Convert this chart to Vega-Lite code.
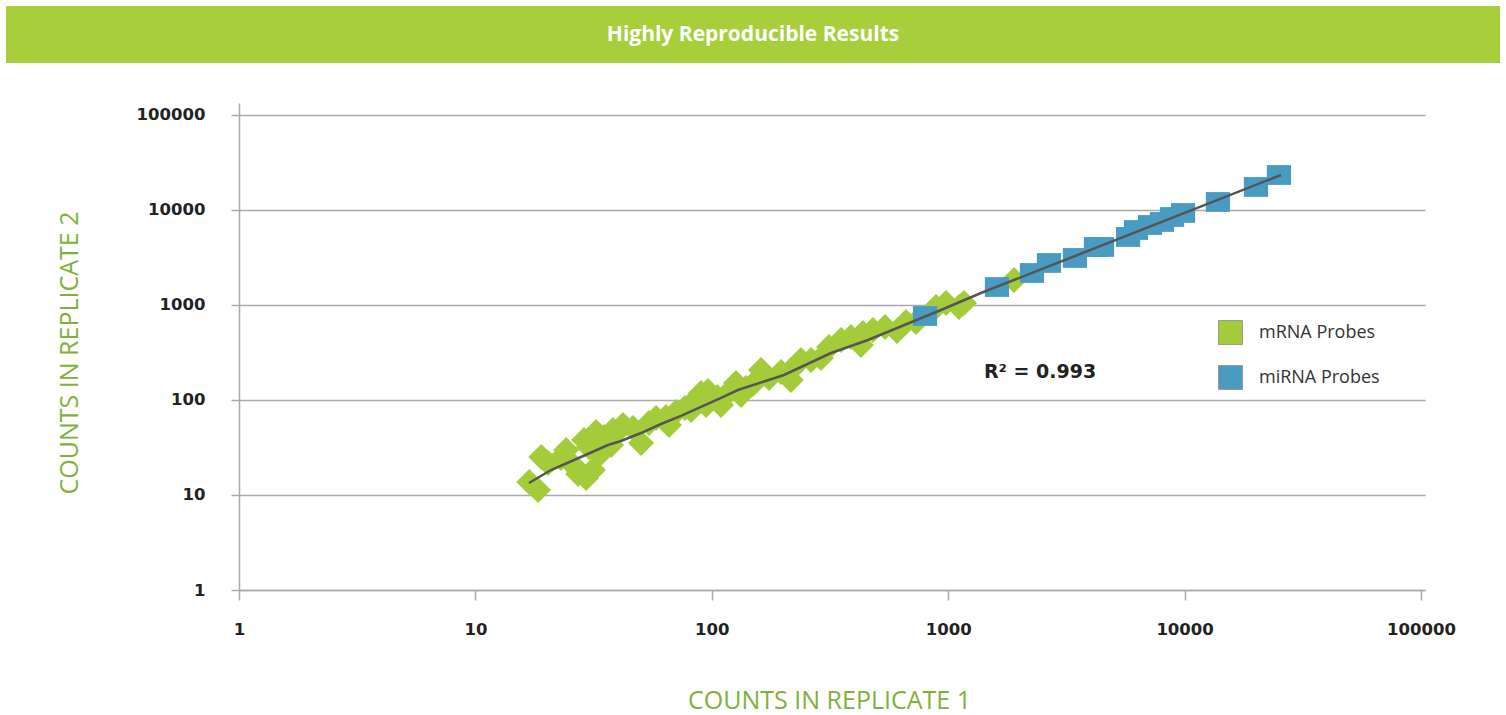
{
  "$schema": "https://vega.github.io/schema/vega-lite/v6.json",
  "padding": {"left": 6, "right": 6, "top": 6, "bottom": 2},
  "background": "white",
  "spacing": 40,
  "config": {"view": {"stroke": null}, "font": "Open Sans"},
  "datasets": {
    "mrna": [
      {"rep1": 16.9, "rep2": 13.7, "probe": "mRNA Probes"},
      {"rep1": 18.4, "rep2": 11.3, "probe": "mRNA Probes"},
      {"rep1": 19.0, "rep2": 25.1, "probe": "mRNA Probes"},
      {"rep1": 20.3, "rep2": 21.7, "probe": "mRNA Probes"},
      {"rep1": 23.0, "rep2": 24.5, "probe": "mRNA Probes"},
      {"rep1": 24.2, "rep2": 29.8, "probe": "mRNA Probes"},
      {"rep1": 25.9, "rep2": 20.7, "probe": "mRNA Probes"},
      {"rep1": 27.2, "rep2": 16.6, "probe": "mRNA Probes"},
      {"rep1": 28.8, "rep2": 37.9, "probe": "mRNA Probes"},
      {"rep1": 29.4, "rep2": 15.1, "probe": "mRNA Probes"},
      {"rep1": 30.2, "rep2": 32.0, "probe": "mRNA Probes"},
      {"rep1": 31.4, "rep2": 18.3, "probe": "mRNA Probes"},
      {"rep1": 33.3, "rep2": 26.4, "probe": "mRNA Probes"},
      {"rep1": 35.0, "rep2": 40.8, "probe": "mRNA Probes"},
      {"rep1": 32.4, "rep2": 46.0, "probe": "mRNA Probes"},
      {"rep1": 37.5, "rep2": 33.6, "probe": "mRNA Probes"},
      {"rep1": 38.2, "rep2": 48.3, "probe": "mRNA Probes"},
      {"rep1": 39.7, "rep2": 46.0, "probe": "mRNA Probes"},
      {"rep1": 42.1, "rep2": 54.6, "probe": "mRNA Probes"},
      {"rep1": 46.4, "rep2": 50.7, "probe": "mRNA Probes"},
      {"rep1": 50.2, "rep2": 35.3, "probe": "mRNA Probes"},
      {"rep1": 54.2, "rep2": 57.3, "probe": "mRNA Probes"},
      {"rep1": 58.1, "rep2": 64.7, "probe": "mRNA Probes"},
      {"rep1": 64.0, "rep2": 66.2, "probe": "mRNA Probes"},
      {"rep1": 65.9, "rep2": 54.6, "probe": "mRNA Probes"},
      {"rep1": 70.6, "rep2": 74.8, "probe": "mRNA Probes"},
      {"rep1": 77.0, "rep2": 82.4, "probe": "mRNA Probes"},
      {"rep1": 81.7, "rep2": 78.5, "probe": "mRNA Probes"},
      {"rep1": 84.1, "rep2": 97.6, "probe": "mRNA Probes"},
      {"rep1": 90.0, "rep2": 118.5, "probe": "mRNA Probes"},
      {"rep1": 94.5, "rep2": 88.6, "probe": "mRNA Probes"},
      {"rep1": 96.3, "rep2": 124.4, "probe": "mRNA Probes"},
      {"rep1": 105.2, "rep2": 107.5, "probe": "mRNA Probes"},
      {"rep1": 109.4, "rep2": 88.6, "probe": "mRNA Probes"},
      {"rep1": 117.1, "rep2": 118.5, "probe": "mRNA Probes"},
      {"rep1": 126.6, "rep2": 151.0, "probe": "mRNA Probes"},
      {"rep1": 132.9, "rep2": 112.9, "probe": "mRNA Probes"},
      {"rep1": 139.5, "rep2": 133.8, "probe": "mRNA Probes"},
      {"rep1": 149.4, "rep2": 147.3, "probe": "mRNA Probes"},
      {"rep1": 161.5, "rep2": 206.9, "probe": "mRNA Probes"},
      {"rep1": 174.6, "rep2": 170.4, "probe": "mRNA Probes"},
      {"rep1": 196.2, "rep2": 197.1, "probe": "mRNA Probes"},
      {"rep1": 216.3, "rep2": 206.9, "probe": "mRNA Probes"},
      {"rep1": 216.0, "rep2": 162.4, "probe": "mRNA Probes"},
      {"rep1": 238.4, "rep2": 263.7, "probe": "mRNA Probes"},
      {"rep1": 262.8, "rep2": 263.7, "probe": "mRNA Probes"},
      {"rep1": 289.6, "rep2": 276.8, "probe": "mRNA Probes"},
      {"rep1": 313.2, "rep2": 361.4, "probe": "mRNA Probes"},
      {"rep1": 352.0, "rep2": 428.1, "probe": "mRNA Probes"},
      {"rep1": 387.9, "rep2": 460.5, "probe": "mRNA Probes"},
      {"rep1": 427.6, "rep2": 379.0, "probe": "mRNA Probes"},
      {"rep1": 436.0, "rep2": 507.5, "probe": "mRNA Probes"},
      {"rep1": 480.7, "rep2": 545.6, "probe": "mRNA Probes"},
      {"rep1": 540.3, "rep2": 586.6, "probe": "mRNA Probes"},
      {"rep1": 607.4, "rep2": 532.5, "probe": "mRNA Probes"},
      {"rep1": 662.9, "rep2": 662.3, "probe": "mRNA Probes"},
      {"rep1": 730.8, "rep2": 662.3, "probe": "mRNA Probes"},
      {"rep1": 888.0, "rep2": 952.6, "probe": "mRNA Probes"},
      {"rep1": 979.0, "rep2": 1049.8, "probe": "mRNA Probes"},
      {"rep1": 1111, "rep2": 952.6, "probe": "mRNA Probes"},
      {"rep1": 1166, "rep2": 1049.8, "probe": "mRNA Probes"},
      {"rep1": 1898, "rep2": 1833, "probe": "mRNA Probes"}
    ],
    "mirna": [
      {"rep1": 798, "rep2": 766, "probe": "miRNA Probes"},
      {"rep1": 1608, "rep2": 1546, "probe": "miRNA Probes"},
      {"rep1": 2261, "rep2": 2172, "probe": "miRNA Probes"},
      {"rep1": 2669, "rep2": 2768, "probe": "miRNA Probes"},
      {"rep1": 3437, "rep2": 3125, "probe": "miRNA Probes"},
      {"rep1": 4220, "rep2": 4080, "probe": "miRNA Probes"},
      {"rep1": 4475, "rep2": 4080, "probe": "miRNA Probes"},
      {"rep1": 5765, "rep2": 5200, "probe": "miRNA Probes"},
      {"rep1": 6226, "rep2": 6155, "probe": "miRNA Probes"},
      {"rep1": 7140, "rep2": 6950, "probe": "miRNA Probes"},
      {"rep1": 8020, "rep2": 7480, "probe": "miRNA Probes"},
      {"rep1": 8850, "rep2": 8440, "probe": "miRNA Probes"},
      {"rep1": 9850, "rep2": 9300, "probe": "miRNA Probes"},
      {"rep1": 13840, "rep2": 12140, "probe": "miRNA Probes"},
      {"rep1": 20050, "rep2": 17470, "probe": "miRNA Probes"},
      {"rep1": 25070, "rep2": 23350, "probe": "miRNA Probes"}
    ],
    "trend": [
      {"rep1": 16.86, "rep2": 13.38},
      {"rep1": 20.88, "rep2": 18.33},
      {"rep1": 27.97, "rep2": 25.12},
      {"rep1": 36.38, "rep2": 33.6},
      {"rep1": 41.3, "rep2": 37.0},
      {"rep1": 50.2, "rep2": 44.9},
      {"rep1": 61.0, "rep2": 55.9},
      {"rep1": 74.1, "rep2": 67.9},
      {"rep1": 109.4, "rep2": 105.0},
      {"rep1": 129.0, "rep2": 127.4},
      {"rep1": 202.1, "rep2": 183.4},
      {"rep1": 319.4, "rep2": 312.4},
      {"rep1": 457.8, "rep2": 428.1},
      {"rep1": 932, "rep2": 886},
      {"rep1": 1376, "rep2": 1337},
      {"rep1": 25570, "rep2": 23360}
    ]
  },
  "vconcat": [
    {
      "width": 1494,
      "height": 57,
      "view": {"fill": "#a8cf3b", "stroke": null},
      "data": {"values": [{"label": "Highly Reproducible Results"}]},
      "mark": {"type": "text", "color": "white", "font": "Open Sans", "fontWeight": "bold", "fontSize": 21, "baseline": "middle", "align": "center"},
      "encoding": {"text": {"field": "label", "type": "nominal"}}
    },
    {
      "spacing": 50,
      "hconcat": [
        {
          "width": 1,
          "height": 1,
          "data": {"values": []},
          "mark": {"type": "point", "opacity": 0}
        },
        {
          "width": 1186,
          "height": 487,
          "layer": [
            {
              "data": {"name": "mrna"},
              "mark": {"type": "point", "shape": "diamond", "filled": true, "size": 676, "opacity": 1, "strokeWidth": 0},
              "encoding": {
                "x": {
                  "field": "rep1", "type": "quantitative",
                  "scale": {"type": "log", "domain": [1, 104000], "nice": false},
                  "axis": {
                    "values": [1, 10, 100, 1000, 10000, 100000], "format": "d", "grid": false,
                    "domainColor": "#aaaaaa", "domainWidth": 1.5, "tickColor": "#aaaaaa", "tickSize": 10, "tickWidth": 1.5,
                    "labelFont": "DejaVu Sans", "labelFontWeight": "bold", "labelFontSize": 16.5, "labelColor": "#222222",
                    "labelPadding": 21, "labelFlush": false, "labelOverlap": false,
                    "title": "COUNTS IN REPLICATE 1", "titleFont": "Open Sans", "titleFontWeight": "normal", "titleFontSize": 25,
                    "titleColor": "#80b13a", "titleX": 590, "titleY": 110, "titleBaseline": "middle", "titleAlign": "center"
                  }
                },
                "y": {
                  "field": "rep2", "type": "quantitative",
                  "scale": {"type": "log", "domain": [1, 133700], "nice": false},
                  "axis": {
                    "values": [1, 10, 100, 1000, 10000, 100000], "format": "d", "grid": true,
                    "gridColor": "#aaaaaa", "gridWidth": 1.5,
                    "domainColor": "#aaaaaa", "domainWidth": 1.5, "tickColor": "#aaaaaa", "tickSize": 8, "tickWidth": 1.5,
                    "labelFont": "DejaVu Sans", "labelFontWeight": "bold", "labelFontSize": 16.5, "labelColor": "#222222",
                    "labelPadding": 26, "labelFlush": false, "labelOverlap": false,
                    "title": "COUNTS IN REPLICATE 2", "titleFont": "Open Sans", "titleFontWeight": "normal", "titleFontSize": 25,
                    "titleColor": "#80b13a", "titleX": -170, "titleY": 249.5, "titleAngle": 270, "titleBaseline": "middle", "titleAlign": "center"
                  }
                },
                "color": {
                  "field": "probe", "type": "nominal",
                  "scale": {"domain": ["mRNA Probes", "miRNA Probes"], "range": ["#a4cc3a", "#4a9bc1"]},
                  "legend": {
                    "orient": "none", "legendX": 1212, "legendY": 314, "title": null, "padding": 0,
                    "symbolType": "square", "symbolSize": 576, "symbolStrokeColor": "#999999", "symbolStrokeWidth": 1,
                    "labelFont": "Open Sans", "labelFontSize": 18, "labelColor": "#333333", "labelOffset": 16, "rowPadding": 16
                  }
                }
              }
            },
            {
              "data": {"name": "mirna"},
              "mark": {"type": "point", "shape": "M-1.1,-0.9L1.1,-0.9L1.1,0.9L-1.1,0.9Z", "filled": true, "size": 484, "opacity": 1, "strokeWidth": 0},
              "encoding": {
                "x": {"field": "rep1", "type": "quantitative"},
                "y": {"field": "rep2", "type": "quantitative"},
                "color": {"field": "probe", "type": "nominal"}
              }
            },
            {
              "data": {"name": "trend"},
              "mark": {"type": "line", "color": "#555555", "strokeWidth": 2.5},
              "encoding": {
                "x": {"field": "rep1", "type": "quantitative"},
                "y": {"field": "rep2", "type": "quantitative"}
              }
            },
            {
              "data": {"values": [{"label": "R² = 0.993"}]},
              "mark": {"type": "text", "font": "DejaVu Sans", "fontWeight": "bold", "fontSize": 19, "color": "#222222", "align": "left", "baseline": "middle"},
              "encoding": {
                "x": {"datum": 1417, "type": "quantitative"},
                "y": {"datum": 197, "type": "quantitative"},
                "text": {"field": "label", "type": "nominal"}
              }
            }
          ]
        }
      ]
    }
  ]
}
